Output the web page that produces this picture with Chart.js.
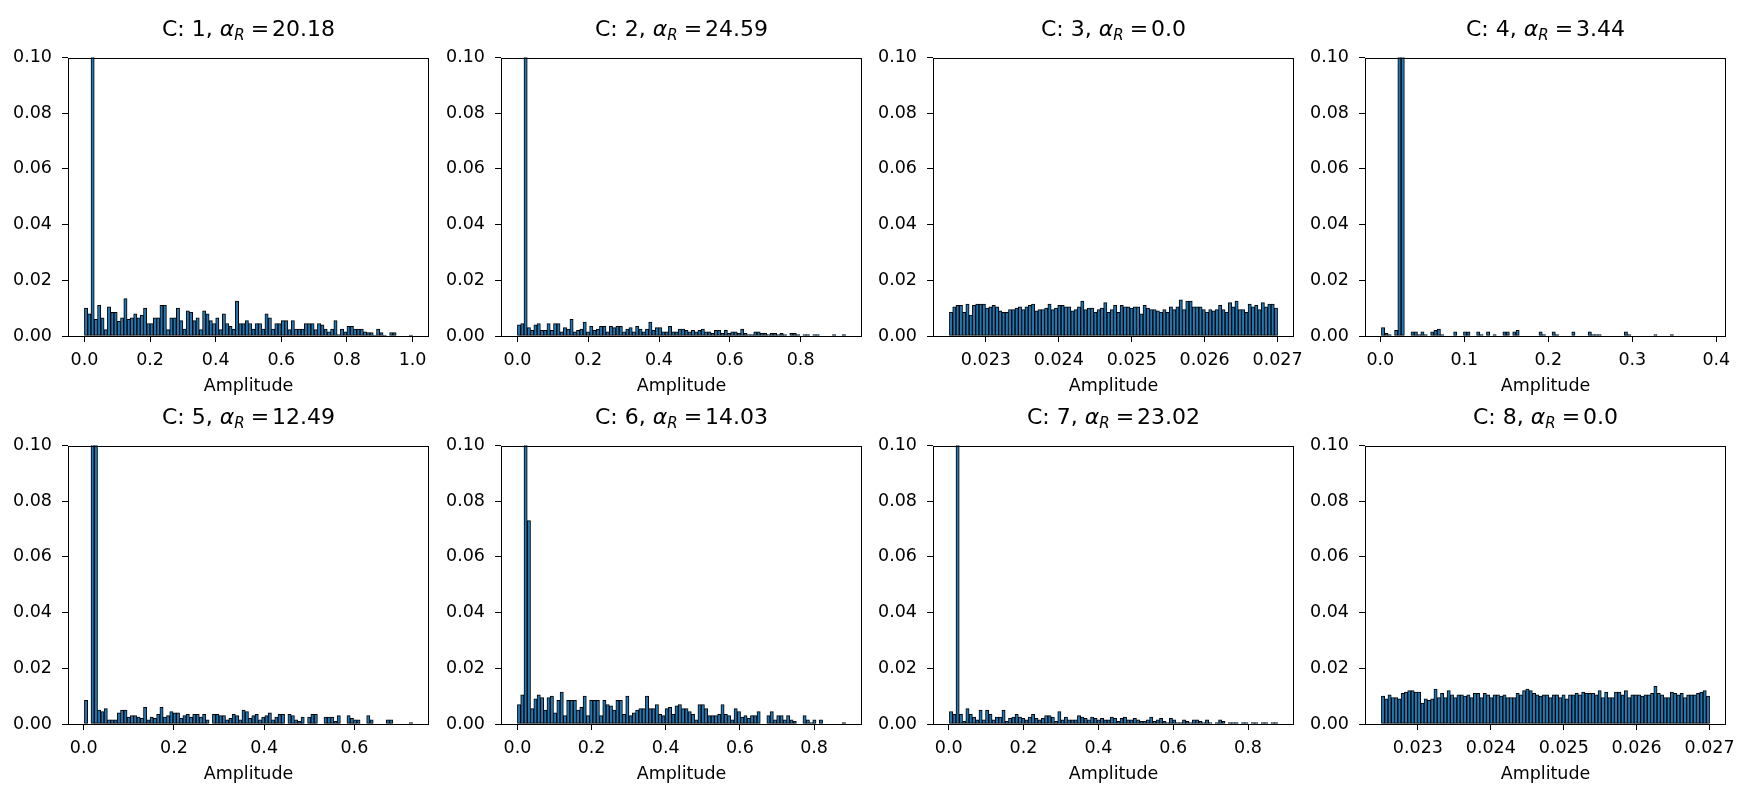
<!DOCTYPE html>
<html>
<head>
<meta charset="utf-8">
<script src="https://cdn.jsdelivr.net/npm/chart.js@4.4.1/dist/chart.umd.min.js"></script>
<style>
  body { margin: 0; background: #fff; width: 1752px; height: 796px; overflow: hidden; position: relative; font-family: 'DejaVu Sans', sans-serif; }
  canvas { position: absolute; }
  .ttl { position: absolute; text-align: center; font-size: 22px; line-height: 26px; color: #000; white-space: nowrap; }
  .ttl sub { font-size: 15px; font-style: italic; vertical-align: -4px; line-height: 0; }
  .ttl .eq { padding: 0 3px 0 6px; }
</style>
</head>
<body>
<script>
// ============ DATA ============
const compIds = ['1','2','3','4','5','6','7','8'];
const alphaR = ['20.18','24.59','0.0','3.44','12.49','14.03','23.02','0.0'];

// histogram range (first bin edge, last bin edge) per component, 100 bins each
const binLo = [0.0, 0.0, 0.0225, 0.0013, 0.0016, 0.0, 0.002, 0.0225];
const binHi = [1.0, 0.927, 0.027, 0.392, 0.729, 0.885, 0.879, 0.027];

const xTicks = [
  [0, 0.2, 0.4, 0.6, 0.8, 1.0],
  [0, 0.2, 0.4, 0.6, 0.8],
  [0.023, 0.024, 0.025, 0.026, 0.027],
  [0, 0.1, 0.2, 0.3, 0.4],
  [0, 0.2, 0.4, 0.6],
  [0, 0.2, 0.4, 0.6, 0.8],
  [0, 0.2, 0.4, 0.6, 0.8],
  [0.023, 0.024, 0.025, 0.026, 0.027]
];
const xTickLabels = [
  ['0.0','0.2','0.4','0.6','0.8','1.0'],
  ['0.0','0.2','0.4','0.6','0.8'],
  ['0.023','0.024','0.025','0.026','0.027'],
  ['0.0','0.1','0.2','0.3','0.4'],
  ['0.0','0.2','0.4','0.6'],
  ['0.0','0.2','0.4','0.6','0.8'],
  ['0.0','0.2','0.4','0.6','0.8'],
  ['0.023','0.024','0.025','0.026','0.027']
];
const yTicks = [0, 0.02, 0.04, 0.06, 0.08, 0.10];
const yTickLabels = ['0.00','0.02','0.04','0.06','0.08','0.10'];

const h1 = [0.010,0.008,0.35,0.006,0.011,0.0065,0.0023,0.0105,0.0085,0.0085,
  0.0053,0.0065,0.0134,0.006,0.0065,0.008,0.0065,0.0075,0.010,0.0045,
  0.0045,0.0065,0.0065,0.011,0.011,0.0023,0.0065,0.0065,0.010,0.0055,
  0.0025,0.009,0.0085,0.0055,0.0065,0.0023,0.009,0.008,0.0055,0.0045,
  0.0065,0.0023,0.008,0.0045,0.0035,0.0025,0.0125,0.0045,0.0045,0.0055,
  0.0045,0.0025,0.0045,0.0045,0.0025,0.008,0.0065,0.0025,0.0045,0.0045,
  0.0055,0.0055,0.0023,0.0055,0.0025,0.0025,0.0025,0.0045,0.0045,0.0045,
  0.0023,0.0045,0.004,0.0025,0.0015,0.0025,0.0055,0.0005,0.0025,0.0015,
  0.0035,0.0035,0.0025,0.0025,0.0025,0.0015,0.0012,0.0012,0.0003,0.0025,
  0.0012,0.0003,0,0.0012,0.0012,0,0,0,0,0.0003];
const h2 = [0.004,0.0045,0.40,0.003,0.002,0.004,0.0045,0.002,0.002,0.0045,
  0.002,0.0045,0.0045,0.0015,0.003,0.0025,0.006,0.0015,0.002,0.0025,
  0.005,0.0015,0.0035,0.002,0.0025,0.0035,0.0035,0.0015,0.0035,0.003,
  0.0035,0.0035,0.0015,0.0025,0.003,0.0015,0.0035,0.0025,0.0015,0.0025,
  0.005,0.002,0.003,0.003,0.0015,0.0015,0.0035,0.0015,0.0015,0.0025,
  0.0025,0.002,0.0015,0.002,0.0015,0.002,0.0025,0.0015,0.0015,0.001,
  0.002,0.002,0.001,0.002,0.001,0.0015,0.0015,0.001,0.0025,0.001,
  0.0005,0.0005,0.0015,0.0015,0.001,0.001,0.0005,0.001,0.001,0.0005,
  0.001,0.0005,0,0.001,0.001,0.0005,0,0.0005,0.0005,0,
  0.0005,0.0005,0,0,0,0,0.0005,0,0,0.0005];
const h3 = [0.0085,0.0105,0.011,0.011,0.0085,0.0115,0.0075,0.011,0.0115,0.0115,
  0.0115,0.01,0.0105,0.011,0.0105,0.009,0.0085,0.0085,0.0095,0.0095,
  0.01,0.0105,0.0095,0.0105,0.011,0.0115,0.009,0.0095,0.0095,0.01,
  0.0115,0.0095,0.01,0.011,0.011,0.0105,0.0105,0.009,0.0095,0.0105,
  0.0125,0.0095,0.01,0.01,0.0085,0.0095,0.01,0.012,0.0085,0.0095,
  0.011,0.0085,0.011,0.0105,0.0105,0.01,0.0105,0.0105,0.008,0.011,
  0.01,0.0095,0.0095,0.009,0.0085,0.0095,0.0085,0.0105,0.0095,0.0105,
  0.013,0.0095,0.0125,0.0125,0.0105,0.0105,0.0105,0.0095,0.0085,0.0095,
  0.009,0.0095,0.011,0.0095,0.0085,0.012,0.0105,0.0125,0.0095,0.0095,
  0.0085,0.0115,0.0105,0.011,0.0095,0.012,0.0105,0.0115,0.0115,0.01];
const h4 = [0.003,0.001,0.0005,0,0.002,0.6,0.6,0,0,0.0015,
  0.0015,0.0005,0.0015,0.0005,0,0.0015,0.002,0.0025,0.0005,0,
  0,0,0.0015,0,0,0.0015,0.0015,0,0,0.0015,
  0.0005,0,0.0015,0,0.0005,0,0,0.0015,0.0015,0,
  0.0015,0.002,0,0,0,0,0,0,0.0015,0.0005,
  0,0,0.0015,0.0005,0,0,0,0,0.0015,0,
  0,0,0,0.0015,0.0005,0.0005,0.0005,0,0,0,
  0,0,0,0,0.0015,0.0005,0,0,0,0,
  0,0,0,0.0005,0,0,0,0,0.0005,0,
  0,0,0,0,0,0,0,0,0,0];
const h5 = [0.0085,0,0.5,0.5,0.005,0.0045,0.0055,0.0015,0.0015,0.0015,
  0.004,0.005,0.005,0.0025,0.003,0.003,0.0025,0.002,0.006,0.0015,
  0.0025,0.002,0.0035,0.006,0.0025,
  0.003,0.0045,0.004,0.004,0.002,0.003,0.0035,0.0025,0.0035,0.0035,0.0025,0.0035,0.0015,0,0.0035,0.0035,
  0.003,0.003,0.0015,0.002,0.0035,0.003,0.0015,0.005,0.0045,0.002,0.003,0.0035,0.0015,0.0025,0.003,
  0.004,0.0015,0.0025,0.0035,0.0035,0,0.0035,0.003,0.0015,0.001,0.0025,0,0.0025,0.0035,0.0035,
  0,0,0.0025,0.0025,0.0025,0.001,0.003,0,0,0.003,0.002,0.0015,0.0015,0,0,
  0.003,0.0015,0,0,0,0,0.0015,0.0015,0,0,0,0,0,0.0005];
const h6 = [0.007,0.0105,0.35,0.073,0.0055,0.009,0.0105,0.0095,0.005,0.0095,
  0.01,0.004,0.0085,0.0115,0.003,0.0085,0.0085,0.0085,0.005,0.006,
  0.01,0.003,0.0085,0.0085,0.0085,0.003,0.0085,0.007,0.0065,0.005,
  0.0085,0.0085,0.0035,0.01,0.003,0.004,0.005,0.0055,0.0055,0.01,
  0.0055,0.0055,0.007,0.0035,0.003,0.0055,0.006,0.0035,0.0065,0.007,
  0.0055,0.0055,0.0045,0.0035,0.0015,0.007,0.007,0.0055,0.003,0.003,
  0.003,0.0035,0.007,0.0035,0.003,0.0015,0.0055,0.0045,0.0025,0.003,
  0.002,0.003,0.003,0.0045,0,0,0.003,0.0045,0.0015,0.003,
  0.003,0.0015,0.003,0.0015,0.001,0,0,0.003,0.0015,0.0005,
  0.0015,0,0.0015,0,0,0,0,0,0,0.0005];
const h7 = [0.0045,0.0035,0.4,0.0035,0.001,0.0055,0.0035,0.0025,0.0015,0.005,
  0.0015,0.005,0.0035,0.0015,0.0025,0.0025,0.005,0.001,0.002,0.0025,
  0.0035,0.0025,0.002,0.0015,0.0025,0.0035,0.002,0.0015,0.002,0.003,
  0.003,0.0025,0.001,0.0045,0.0015,0.0025,0.0015,0.0015,0.0015,0.003,
  0.0025,0.002,0.0015,0.0025,0.002,0.0015,0.002,0.0015,0.0015,0.0025,
  0.002,0.001,0.002,0.0025,0.0015,0.0015,0.002,0.0015,0.001,0.001,
  0.0015,0.0025,0.001,0.0015,0.002,0.001,0.0005,0.002,0.0015,0.0005,
  0.0005,0.0015,0.001,0.0005,0.0015,0.0015,0.001,0.0005,0.0015,0.0005,
  0,0.0005,0.0015,0.001,0,0.0005,0.0005,0.0005,0,0.0005,
  0.0005,0,0.0005,0.0005,0,0.0005,0.0005,0,0.0005,0.0005];
const h8 = [0.01,0.009,0.0105,0.0095,0.0095,0.009,0.011,0.0115,0.012,0.012,
  0.0115,0.0115,0.0075,0.009,0.0085,0.009,0.0125,0.0095,0.011,0.0095,
  0.012,0.0105,0.0095,0.0105,0.0105,0.01,0.0105,0.0095,0.011,0.011,
  0.0095,0.011,0.0105,0.0095,0.0105,0.0105,0.01,0.0105,0.0095,0.0095,
  0.0095,0.011,0.0105,0.012,0.0125,0.012,0.011,0.0105,0.01,0.0105,
  0.0105,0.0095,0.0105,0.0105,0.0095,0.0105,0.009,0.0105,0.0105,0.011,
  0.0105,0.0115,0.011,0.011,0.011,0.0105,0.012,0.0095,0.0115,0.0095,
  0.0095,0.0115,0.0115,0.0105,0.012,0.0095,0.0105,0.0105,0.0105,0.01,
  0.0105,0.0105,0.011,0.0135,0.011,0.0105,0.0095,0.0095,0.0115,0.011,
  0.0105,0.011,0.0095,0.0105,0.0105,0.0105,0.011,0.0115,0.012,0.01];
const hists = [h1, h2, h3, h4, h5, h6, h7, h8];

// ============ LAYOUT ============
const colLeft = [68, 501, 933, 1365];
const rowTop = [49, 437];
const plotW = 361, plotH = 287;
const padL = 70, padT = 12, padR = 30, axisH = 61;
const tickFont = { family: 'DejaVu Sans', size: 17.5 };

const framePlugin = {
  id: 'frame',
  afterDatasetsDraw(chart) {
    const a = chart.chartArea, c = chart.ctx;
    c.save();
    c.strokeStyle = '#000';
    c.lineWidth = 1;
    c.strokeRect(Math.round(a.left) + 0.5, Math.round(a.top) + 0.5, Math.round(a.right - a.left) - 1, Math.round(a.bottom - a.top) - 1);
    c.restore();
  }
};

function makePanel(i) {
  const L = colLeft[i % 4], T = rowTop[Math.floor(i / 4)];
  const cv = document.createElement('canvas');
  cv.width = padL + plotW + padR;
  cv.height = padT + plotH + axisH;
  cv.style.left = (L - padL) + 'px';
  cv.style.top = (T - padT) + 'px';
  document.body.appendChild(cv);

  const ttl = document.createElement('div');
  ttl.className = 'ttl';
  ttl.style.left = L + 'px';
  ttl.style.width = plotW + 'px';
  ttl.style.top = (T - 33) + 'px';
  ttl.innerHTML = 'C: ' + compIds[i] + ', <i>α</i><sub>R</sub><span class="eq">=</span>' + alphaR[i];
  document.body.appendChild(ttl);

  const lo = binLo[i], hi = binHi[i], n = hists[i].length;
  const w = (hi - lo) / n;
  const pts = hists[i].map((v, k) => ({ x: lo + (k + 0.5) * w, y: v }));
  const span = hi - lo;

  new Chart(cv, {
    type: 'bar',
    data: {
      datasets: [{
        data: pts,
        backgroundColor: '#1f77b4',
        borderColor: '#000',
        borderWidth: 1,
        borderSkipped: false,
        barPercentage: 1,
        categoryPercentage: 1
      }]
    },
    options: {
      responsive: false,
      animation: false,
      layout: { padding: { left: 0, top: padT, right: padR, bottom: 0 } },
      plugins: { legend: { display: false }, tooltip: { enabled: false } },
      scales: {
        x: {
          type: 'linear',
          offset: false,
          min: lo - 0.05 * span,
          max: hi + 0.05 * span,
          afterBuildTicks: s => { s.ticks = xTicks[i].map(v => ({ value: v })); },
          afterFit: s => { s.height = axisH; },
          ticks: { font: tickFont, color: '#000', padding: 8, maxRotation: 0, autoSkip: false,
                   callback: (v, k) => xTickLabels[i][k] },
          grid: { drawOnChartArea: false, offset: false, tickLength: 6, tickColor: '#000' },
          border: { display: false },
          title: { display: true, text: 'Amplitude', font: tickFont, color: '#000', padding: { top: 2, bottom: 0 } }
        },
        y: {
          min: 0,
          max: 0.1,
          afterBuildTicks: s => { s.ticks = yTicks.map(v => ({ value: v })); },
          afterFit: s => { s.width = padL; },
          ticks: { font: tickFont, color: '#000', padding: 10, autoSkip: false,
                   callback: (v, k) => yTickLabels[k] },
          grid: { drawOnChartArea: false, tickLength: 6, tickColor: '#000' },
          border: { display: false }
        }
      }
    },
    plugins: [framePlugin]
  });
}

for (let i = 0; i < 8; i++) makePanel(i);
</script>
</body>
</html>
